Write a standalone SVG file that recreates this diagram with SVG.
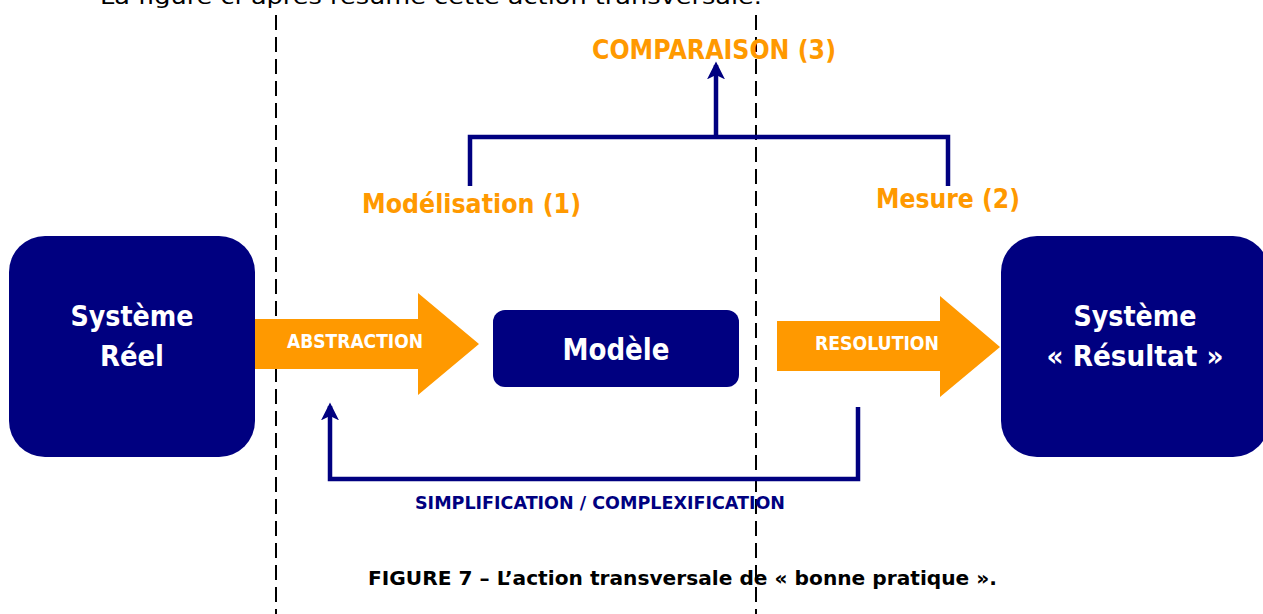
<svg xmlns="http://www.w3.org/2000/svg" width="1263" height="614" viewBox="0 0 1263 614">
  <style>
    .box { fill: #000080; }
    .flow { fill: #FF9900; }
    .wt { fill: #ffffff; font-family: "DejaVu Sans", "Liberation Sans", sans-serif; font-weight: bold; text-anchor: middle; }
    .or { fill: #FF9900; font-family: "DejaVu Sans", "Liberation Sans", sans-serif; font-weight: bold; }
    .nv { fill: #000080; font-family: "DejaVu Sans", "Liberation Sans", sans-serif; font-weight: bold; }
    .bk { fill: #000000; font-family: "DejaVu Sans", "Liberation Sans", sans-serif; }
    .link { fill: none; stroke: #000080; stroke-width: 4.5; }
    .guide { stroke: #000000; stroke-width: 2; stroke-dasharray: 15 7; }
  </style>
  <defs>
    <marker id="tip" viewBox="0 0 10 10" refX="8" refY="5" markerWidth="4" markerHeight="4" markerUnits="strokeWidth" orient="auto">
      <path d="M0,0 L10,5 L0,10 L2.5,5 Z" fill="#000080"/>
    </marker>
  </defs>
  <rect width="1263" height="614" fill="#ffffff"/>

  <!-- body text line above the figure -->
  <text class="bk" x="100" y="4" font-size="22" textLength="662" lengthAdjust="spacingAndGlyphs">La figure ci-après résume cette action transversale.</text>

  <!-- vertical dashed guides -->
  <g id="guides">
    <line class="guide" x1="276" y1="15" x2="276" y2="614"/>
    <line class="guide" x1="756" y1="15" x2="756" y2="614"/>
  </g>

  <g id="systeme-reel">
    <rect class="box" x="9" y="236" width="246" height="221" rx="36"/>
    <text class="wt" x="132" y="326" font-size="28" textLength="123" lengthAdjust="spacingAndGlyphs">Système</text>
    <text class="wt" x="132" y="366" font-size="28" textLength="64" lengthAdjust="spacingAndGlyphs">Réel</text>
  </g>

  <g id="abstraction">
    <polygon class="flow" points="255,319 418,319 418,293 479,344 418,395 418,369 255,369"/>
    <text class="wt" x="355" y="348" font-size="20" textLength="136" lengthAdjust="spacingAndGlyphs">ABSTRACTION</text>
  </g>

  <g id="modele">
    <rect class="box" x="493" y="310" width="246" height="77" rx="12"/>
    <text class="wt" x="616" y="360" font-size="31" textLength="107" lengthAdjust="spacingAndGlyphs">Modèle</text>
  </g>

  <g id="resolution">
    <polygon class="flow" points="777,321 940,321 940,296 1000,347 940,397 940,371 777,371"/>
    <text class="wt" x="877" y="350" font-size="20" textLength="124" lengthAdjust="spacingAndGlyphs">RESOLUTION</text>
  </g>

  <g id="systeme-resultat">
    <rect class="box" x="1001" y="236" width="268" height="221" rx="36"/>
    <text class="wt" x="1135" y="326" font-size="28" textLength="123" lengthAdjust="spacingAndGlyphs">Système</text>
    <text class="wt" x="1135" y="366" font-size="28" textLength="177" lengthAdjust="spacingAndGlyphs">« Résultat »</text>
  </g>

  <g id="labels">
    <text class="or" x="592" y="59" font-size="26" textLength="244" lengthAdjust="spacingAndGlyphs">COMPARAISON (3)</text>
    <text class="or" x="362" y="213" font-size="27" textLength="219" lengthAdjust="spacingAndGlyphs">Modélisation (1)</text>
    <text class="or" x="876" y="208" font-size="27" textLength="144" lengthAdjust="spacingAndGlyphs">Mesure (2)</text>
    <text class="nv" x="415" y="509" font-size="18" textLength="370" lengthAdjust="spacingAndGlyphs">SIMPLIFICATION / COMPLEXIFICATION</text>
  </g>

  <g id="connectors">
    <!-- comparison bracket -->
    <path class="link" d="M470,186 V137 H948 V186"/>
    <line class="link" x1="716" y1="137" x2="716" y2="65" marker-end="url(#tip)"/>
    <!-- simplification / complexification loop -->
    <path class="link" d="M858,407 V479 H330 V406" marker-end="url(#tip)"/>
  </g>

  <text class="bk" x="368" y="585" font-size="20" font-weight="bold" textLength="629" lengthAdjust="spacingAndGlyphs">FIGURE 7 – L’action transversale de « bonne pratique ».</text>
</svg>
